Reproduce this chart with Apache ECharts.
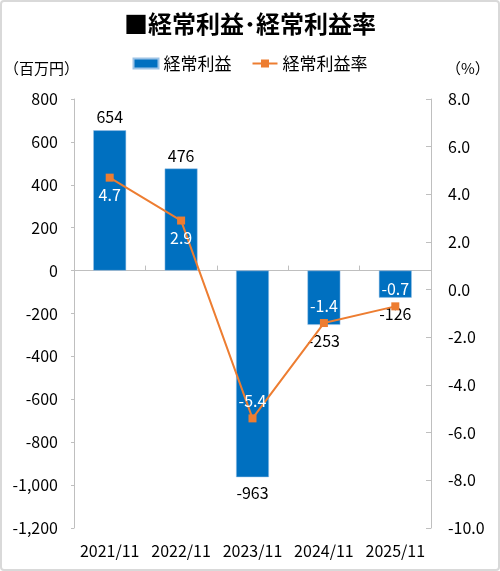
<!DOCTYPE html>
<html>
<head>
<meta charset="utf-8">
<script src="https://cdn.jsdelivr.net/npm/echarts@6/dist/echarts.min.js"></script>
<style>
    html, body { margin: 0; padding: 0; background: #fff; }
    #wrap { position: relative; width: 500px; height: 571px; }
    #main { width: 500px; height: 571px; }
    #frame {
        position: absolute; left: 0; top: 0;
        width: 500px; height: 571px;
        box-sizing: border-box;
        border: 2px solid #d9d9d9;
        border-radius: 4px;
        pointer-events: none;
    }
</style>
</head>
<body>
<div id="wrap">
    <div id="main"></div>
    <div id="frame"></div>
</div>
<script>
var categories = ['2021/11', '2022/11', '2023/11', '2024/11', '2025/11'];
var profitValues = [654, 476, -963, -253, -126];      // 経常利益（百万円）
var marginValues = [4.7, 2.9, -5.4, -1.4, -0.7];      // 経常利益率（%）
var leftTicks = { min: -1200, max: 800, interval: 200 };
var rightTicks = { min: -10, max: 8, interval: 2 };

var FONT = '"Noto Sans CJK JP", "Noto Sans", sans-serif';

var myChart = echarts.init(document.getElementById('main'), null, {renderer: 'canvas'});

// 棒ラベル：プラスは上、マイナスは下
var barData = profitValues.map(function (v) {
    return {
        value: v,
        label: {position: v >= 0 ? 'top' : 'bottom', distance: v >= 0 ? 5 : 8}
    };
});
// 折れ線ラベル：プラスは下、マイナスは上（白文字）
var lineData = marginValues.map(function (v) {
    return {
        value: v,
        label: {position: v >= 0 ? 'bottom' : 'top', distance: 5}
    };
});

var option = {
    animation: false,
    textStyle: {fontFamily: FONT},
    title: {
        text: '■経常利益･経常利益率',
        left: 'center',
        top: 7,
        textStyle: {fontFamily: FONT, fontSize: 24, fontWeight: 'bold', color: '#000'}
    },
    legend: {
        top: 50,
        left: 'center',
        itemGap: 20,
        itemWidth: 25,
        itemHeight: 10,
        textStyle: {fontFamily: FONT, fontSize: 17, color: '#000'},
        data: [
            {name: '経常利益', icon: 'rect'},
            {name: '経常利益率'}
        ]
    },
    graphic: [
        {type: 'text', left: 4, top: 61,
            style: {text: '（百万円）', font: '15px ' + FONT, fill: '#000'}},
        {type: 'text', left: 446, top: 61,
            style: {text: '（%）', font: '15px ' + FONT, fill: '#000'}}
    ],
    grid: {left: 74, right: 69, top: 99, bottom: 43},
    xAxis: [
        {
            type: 'category',
            data: categories,
            position: 'bottom',
            axisLine: {show: false},
            axisTick: {show: false},
            axisLabel: {fontSize: 16, color: '#000', margin: 15, interval: 0, fontFamily: FONT}
        },
        {
            type: 'category',
            data: categories,
            position: 'bottom',
            axisLine: {show: true, onZero: true, onZeroAxisIndex: 0,
                lineStyle: {color: '#bfbfbf', width: 1}},
            axisTick: {show: true, inside: true, length: 5, lineStyle: {color: '#bfbfbf'}},
            axisLabel: {show: false}
        }
    ],
    yAxis: [
        {
            type: 'value',
            min: leftTicks.min, max: leftTicks.max, interval: leftTicks.interval,
            axisLine: {show: true, lineStyle: {color: '#bfbfbf'}},
            axisTick: {show: true, length: 3, lineStyle: {color: '#bfbfbf'}},
            splitLine: {show: false},
            axisLabel: {
                fontSize: 16, color: '#000', margin: 16, fontFamily: FONT,
                formatter: function (value) {
                    return value.toLocaleString('en-US');
                }
            }
        },
        {
            type: 'value',
            min: rightTicks.min, max: rightTicks.max, interval: rightTicks.interval,
            position: 'right',
            axisLine: {show: true, lineStyle: {color: '#bfbfbf'}},
            axisTick: {show: true, inside: true, length: 5, lineStyle: {color: '#bfbfbf'}},
            splitLine: {show: false},
            axisLabel: {
                fontSize: 16, color: '#000', margin: 17, fontFamily: FONT,
                formatter: function (value) {
                    return value.toFixed(1);
                }
            }
        }
    ],
    series: [
        {
            name: '経常利益',
            type: 'bar',
            xAxisIndex: 0,
            yAxisIndex: 0,
            barWidth: '46%',
            data: barData,
            itemStyle: {color: '#0070C0', borderColor: '#9dc3e6', borderWidth: 0.5},
            label: {show: true, fontSize: 16, color: '#000', fontFamily: FONT}
        },
        {
            name: '経常利益率',
            type: 'line',
            xAxisIndex: 0,
            yAxisIndex: 1,
            data: lineData,
            symbol: 'rect',
            symbolSize: 8,
            lineStyle: {color: '#ED7D31', width: 2},
            itemStyle: {color: '#ED7D31'},
            label: {
                show: true, fontSize: 16, color: '#fff', fontFamily: FONT,
                formatter: function (p) { return p.value.toFixed(1); }
            },
            z: 3
        }
    ]
};
myChart.setOption(option);
</script>
</body>
</html>
